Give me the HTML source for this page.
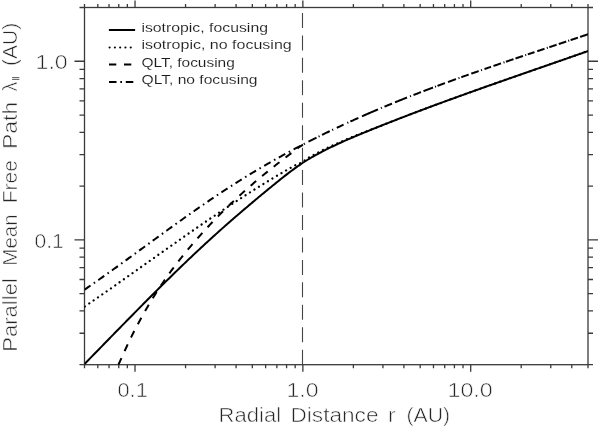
<!DOCTYPE html>
<html><head><meta charset="utf-8"><style>
html,body{margin:0;padding:0;background:#fff;width:600px;height:428px;overflow:hidden}
svg{display:block;filter:grayscale(1)}
text{font-family:"Liberation Sans",sans-serif}
.tk{font-size:20px;fill:#262626;stroke:#fff;stroke-width:0.55px}
.tt{font-size:19.5px;fill:#262626;stroke:#fff;stroke-width:0.55px}
.lg{font-size:13.4px;fill:#1c1c1c;stroke:#fff;stroke-width:0.1px}
</style></head><body>
<svg width="600" height="428" viewBox="0 0 600 428">
<defs><clipPath id="c"><rect x="84.5" y="7.5" width="503.5" height="357.2"/></clipPath></defs>
<rect x="84.5" y="7.5" width="503.5" height="357.2" fill="none" stroke="#3a3a3a" stroke-width="1.3"/>
<path d="M135.02 364.7V371.8M135.02 7.5V0.4M302.86 364.7V371.8M302.86 7.5V0.4M470.69 364.7V371.8M470.69 7.5V0.4M84.5 364.7V368.3M84.5 7.5V3.9M97.79 364.7V368.3M97.79 7.5V3.9M109.03 364.7V368.3M109.03 7.5V3.9M118.76 364.7V368.3M118.76 7.5V3.9M127.34 364.7V368.3M127.34 7.5V3.9M185.55 364.7V368.3M185.55 7.5V3.9M215.1 364.7V368.3M215.1 7.5V3.9M236.07 364.7V368.3M236.07 7.5V3.9M252.33 364.7V368.3M252.33 7.5V3.9M265.62 364.7V368.3M265.62 7.5V3.9M276.86 364.7V368.3M276.86 7.5V3.9M286.59 364.7V368.3M286.59 7.5V3.9M295.18 364.7V368.3M295.18 7.5V3.9M353.38 364.7V368.3M353.38 7.5V3.9M382.93 364.7V368.3M382.93 7.5V3.9M403.9 364.7V368.3M403.9 7.5V3.9M420.17 364.7V368.3M420.17 7.5V3.9M433.46 364.7V368.3M433.46 7.5V3.9M444.69 364.7V368.3M444.69 7.5V3.9M454.42 364.7V368.3M454.42 7.5V3.9M463.01 364.7V368.3M463.01 7.5V3.9M521.21 364.7V368.3M521.21 7.5V3.9M550.77 364.7V368.3M550.77 7.5V3.9M571.74 364.7V368.3M571.74 7.5V3.9M588 364.7V368.3M588 7.5V3.9M84.5 239.86H74.5M588 239.86H598M84.5 61.26H74.5M588 61.26H598M84.5 364.7H79.5M588 364.7H593M84.5 333.25H79.5M588 333.25H593M84.5 310.94H79.5M588 310.94H593M84.5 293.63H79.5M588 293.63H593M84.5 279.49H79.5M588 279.49H593M84.5 267.53H79.5M588 267.53H593M84.5 257.17H79.5M588 257.17H593M84.5 248.04H79.5M588 248.04H593M84.5 186.1H79.5M588 186.1H593M84.5 154.65H79.5M588 154.65H593M84.5 132.34H79.5M588 132.34H593M84.5 115.03H79.5M588 115.03H593M84.5 100.89H79.5M588 100.89H593M84.5 88.93H79.5M588 88.93H593M84.5 78.57H79.5M588 78.57H593M84.5 69.44H79.5M588 69.44H593M84.5 7.5H79.5M588 7.5H593" stroke="#3a3a3a" stroke-width="1.3" fill="none"/>
<path d="M302.5 364.7V7.5" stroke="#444" stroke-width="1.1" stroke-dasharray="15 7.45" fill="none"/>
<path clip-path="url(#c)" d="M303 144.51C303.25 144.38 303.92 144.04 304.5 143.74C305.08 143.44 305.83 143.05 306.5 142.71C307.17 142.37 307.83 142.02 308.5 141.68C309.17 141.34 309.83 141 310.5 140.66C311.17 140.32 311.83 139.99 312.5 139.65C313.17 139.31 313.83 138.97 314.5 138.64C315.17 138.3 315.83 137.97 316.5 137.64C317.17 137.31 317.83 136.98 318.5 136.65C319.17 136.32 319.83 135.99 320.5 135.66C321.17 135.33 321.83 135 322.5 134.67C323.17 134.34 323.83 134.02 324.5 133.7C325.17 133.38 325.83 133.04 326.5 132.72C327.17 132.4 327.83 132.08 328.5 131.76C329.17 131.44 329.83 131.11 330.5 130.79C331.17 130.47 331.83 130.16 332.5 129.84C333.17 129.52 333.83 129.21 334.5 128.89C335.17 128.57 335.83 128.25 336.5 127.94C337.17 127.62 337.83 127.31 338.5 127C339.17 126.69 339.83 126.37 340.5 126.06C341.17 125.75 341.83 125.44 342.5 125.13C343.17 124.82 343.83 124.52 344.5 124.21C345.17 123.9 345.83 123.59 346.5 123.28C347.17 122.97 347.83 122.67 348.5 122.37C349.17 122.07 349.83 121.76 350.5 121.46C351.17 121.16 351.83 120.85 352.5 120.55C353.17 120.25 353.83 119.95 354.5 119.65C355.17 119.35 355.83 119.05 356.5 118.75C357.17 118.45 357.83 118.16 358.5 117.86C359.17 117.56 359.83 117.28 360.5 116.98C361.17 116.69 361.83 116.38 362.5 116.09C363.17 115.8 363.83 115.51 364.5 115.22C365.17 114.93 365.83 114.63 366.5 114.34C367.17 114.05 367.83 113.76 368.5 113.47C369.17 113.18 369.83 112.9 370.5 112.61C371.17 112.32 371.83 112.04 372.5 111.75C373.17 111.46 373.83 111.17 374.5 110.89C375.17 110.61 375.83 110.32 376.5 110.04C377.17 109.76 377.83 109.47 378.5 109.19C379.17 108.91 379.83 108.63 380.5 108.35C381.17 108.07 381.83 107.79 382.5 107.51C383.17 107.23 383.83 106.96 384.5 106.68C385.17 106.4 385.83 106.13 386.5 105.85C387.17 105.57 387.83 105.29 388.5 105.02C389.17 104.75 389.83 104.47 390.5 104.2C391.17 103.93 391.83 103.65 392.5 103.38C393.17 103.11 393.83 102.83 394.5 102.56C395.17 102.29 395.83 102.02 396.5 101.75C397.17 101.48 397.83 101.21 398.5 100.94C399.17 100.67 399.83 100.41 400.5 100.14C401.17 99.87 401.83 99.61 402.5 99.34C403.17 99.07 403.83 98.81 404.5 98.54C405.17 98.28 405.83 98.01 406.5 97.75C407.17 97.49 407.83 97.22 408.5 96.96C409.17 96.7 409.83 96.43 410.5 96.17C411.17 95.91 411.83 95.65 412.5 95.39C413.17 95.13 413.83 94.87 414.5 94.61C415.17 94.35 415.83 94.09 416.5 93.83C417.17 93.57 417.83 93.32 418.5 93.06C419.17 92.8 419.83 92.55 420.5 92.29C421.17 92.03 421.83 91.77 422.5 91.52C423.17 91.27 423.83 91.01 424.5 90.76C425.17 90.51 425.83 90.25 426.5 90C427.17 89.75 427.83 89.49 428.5 89.24C429.17 88.99 429.83 88.74 430.5 88.49C431.17 88.24 431.83 87.98 432.5 87.73C433.17 87.48 433.83 87.24 434.5 86.99C435.17 86.74 435.83 86.49 436.5 86.24C437.17 85.99 437.83 85.75 438.5 85.5C439.17 85.25 439.83 85.01 440.5 84.76C441.17 84.51 441.83 84.27 442.5 84.02C443.17 83.77 443.83 83.53 444.5 83.28C445.17 83.03 445.83 82.79 446.5 82.55C447.17 82.31 447.83 82.06 448.5 81.82C449.17 81.58 449.83 81.33 450.5 81.09C451.17 80.85 451.83 80.61 452.5 80.37C453.17 80.13 453.83 79.88 454.5 79.64C455.17 79.4 455.83 79.16 456.5 78.92C457.17 78.68 457.83 78.45 458.5 78.21C459.17 77.97 459.83 77.73 460.5 77.49C461.17 77.25 461.83 77.02 462.5 76.78C463.17 76.54 463.83 76.3 464.5 76.06C465.17 75.82 465.83 75.58 466.5 75.35C467.17 75.11 467.83 74.89 468.5 74.65C469.17 74.42 469.83 74.17 470.5 73.94C471.17 73.7 471.83 73.47 472.5 73.24C473.17 73.01 473.83 72.77 474.5 72.54C475.17 72.31 475.83 72.07 476.5 71.84C477.17 71.61 477.83 71.37 478.5 71.14C479.17 70.91 479.83 70.67 480.5 70.44C481.17 70.21 481.83 69.98 482.5 69.75C483.17 69.52 483.83 69.28 484.5 69.05C485.17 68.82 485.83 68.59 486.5 68.36C487.17 68.13 487.83 67.9 488.5 67.67C489.17 67.44 489.83 67.21 490.5 66.98C491.17 66.75 491.83 66.53 492.5 66.3C493.17 66.07 493.83 65.84 494.5 65.61C495.17 65.38 495.83 65.16 496.5 64.93C497.17 64.7 497.83 64.48 498.5 64.25C499.17 64.02 499.83 63.79 500.5 63.56C501.17 63.33 501.83 63.11 502.5 62.88C503.17 62.65 503.83 62.43 504.5 62.2C505.17 61.98 505.83 61.76 506.5 61.53C507.17 61.3 507.83 61.08 508.5 60.85C509.17 60.62 509.83 60.4 510.5 60.17C511.17 59.95 511.83 59.73 512.5 59.5C513.17 59.27 513.83 59.05 514.5 58.82C515.17 58.59 515.83 58.37 516.5 58.15C517.17 57.93 517.83 57.7 518.5 57.48C519.17 57.26 519.83 57.03 520.5 56.81C521.17 56.59 521.83 56.36 522.5 56.14C523.17 55.92 523.83 55.69 524.5 55.47C525.17 55.25 525.83 55.02 526.5 54.8C527.17 54.58 527.83 54.35 528.5 54.13C529.17 53.91 529.83 53.68 530.5 53.46C531.17 53.24 531.83 53.01 532.5 52.79C533.17 52.57 533.83 52.34 534.5 52.12C535.17 51.9 535.83 51.68 536.5 51.46C537.17 51.24 537.83 51.01 538.5 50.79C539.17 50.57 539.83 50.34 540.5 50.12C541.17 49.9 541.83 49.68 542.5 49.46C543.17 49.24 543.83 49.01 544.5 48.79C545.17 48.57 545.83 48.34 546.5 48.12C547.17 47.9 547.83 47.68 548.5 47.46C549.17 47.24 549.83 47.01 550.5 46.79C551.17 46.57 551.83 46.35 552.5 46.13C553.17 45.91 553.83 45.68 554.5 45.46C555.17 45.24 555.83 45.01 556.5 44.79C557.17 44.57 557.83 44.35 558.5 44.13C559.17 43.91 559.83 43.68 560.5 43.46C561.17 43.24 561.83 43.01 562.5 42.79C563.17 42.57 563.83 42.35 564.5 42.13C565.17 41.91 565.83 41.68 566.5 41.46C567.17 41.24 567.83 41.01 568.5 40.79C569.17 40.57 569.83 40.34 570.5 40.12C571.17 39.9 571.83 39.68 572.5 39.46C573.17 39.24 573.83 39.01 574.5 38.79C575.17 38.57 575.83 38.34 576.5 38.12C577.17 37.9 577.83 37.67 578.5 37.45C579.17 37.23 579.83 37.01 580.5 36.78C581.17 36.55 581.83 36.33 582.5 36.1C583.17 35.88 583.83 35.65 584.5 35.43C585.17 35.21 585.92 34.96 586.5 34.76C587.08 34.56 587.75 34.34 588 34.25" stroke="#000" stroke-width="2.0" fill="none" stroke-dasharray="0.00 1.01 1.12 4.05 8.96 2.34 1.12 2.68 8.56 2.77 1.11 3.98 7.50 4.08 1.10 2.31 8.77 3.94 17.43 3.15 1.08 2.82 8.11 3.24 12.93 3.23 1.07 2.68 8.04 2.68 10.16 2.13 1.07 1.60 8.00 3.19 8.51 2.65 1.06 1.91 7.85 2.76 7.84 2.44 1.06 2.65 6.88 2.64 7.93 2.64 1.06 1.58 7.92 2.11 7.91 2.32 1.05 1.69 7.07 2.84 7.70 2.43 1.05 1.58 7.70 2.32 7.80 2.11 1.05 1.48 7.70 2.32 8.34 50.00"/>
<path clip-path="url(#c)" d="M84.5 364.03C84.83 363.69 85.83 362.66 86.5 361.98C87.17 361.3 87.83 360.62 88.5 359.94C89.17 359.26 89.83 358.57 90.5 357.89C91.17 357.21 91.83 356.52 92.5 355.84C93.17 355.16 93.83 354.47 94.5 353.79C95.17 353.11 95.83 352.43 96.5 351.75C97.17 351.07 97.83 350.38 98.5 349.7C99.17 349.02 99.83 348.33 100.5 347.65C101.17 346.97 101.83 346.28 102.5 345.6C103.17 344.92 103.83 344.23 104.5 343.55C105.17 342.87 105.83 342.18 106.5 341.5C107.17 340.82 107.83 340.13 108.5 339.45C109.17 338.77 109.83 338.08 110.5 337.4C111.17 336.72 111.83 336.04 112.5 335.36C113.17 334.68 113.83 333.99 114.5 333.31C115.17 332.63 115.83 331.94 116.5 331.26C117.17 330.58 117.83 329.9 118.5 329.22C119.17 328.54 119.83 327.86 120.5 327.18C121.17 326.5 121.83 325.82 122.5 325.14C123.17 324.46 123.83 323.78 124.5 323.1C125.17 322.42 125.83 321.74 126.5 321.06C127.17 320.38 127.83 319.7 128.5 319.02C129.17 318.34 129.83 317.67 130.5 316.99C131.17 316.31 131.83 315.63 132.5 314.95C133.17 314.27 133.83 313.6 134.5 312.92C135.17 312.25 135.83 311.57 136.5 310.9C137.17 310.22 137.83 309.55 138.5 308.87C139.17 308.19 139.83 307.52 140.5 306.85C141.17 306.18 141.83 305.5 142.5 304.83C143.17 304.16 143.83 303.49 144.5 302.82C145.17 302.15 145.83 301.47 146.5 300.8C147.17 300.13 147.83 299.47 148.5 298.8C149.17 298.13 149.83 297.46 150.5 296.79C151.17 296.12 151.83 295.46 152.5 294.79C153.17 294.12 153.83 293.46 154.5 292.79C155.17 292.12 155.83 291.46 156.5 290.8C157.17 290.14 157.83 289.47 158.5 288.81C159.17 288.15 159.83 287.48 160.5 286.82C161.17 286.16 161.83 285.5 162.5 284.84C163.17 284.18 163.83 283.53 164.5 282.87C165.17 282.21 165.83 281.55 166.5 280.89C167.17 280.23 167.83 279.58 168.5 278.93C169.17 278.28 169.83 277.62 170.5 276.97C171.17 276.32 171.83 275.66 172.5 275.01C173.17 274.36 173.83 273.71 174.5 273.06C175.17 272.41 175.83 271.77 176.5 271.12C177.17 270.47 177.83 269.83 178.5 269.18C179.17 268.53 179.83 267.88 180.5 267.24C181.17 266.6 181.83 265.96 182.5 265.32C183.17 264.68 183.83 264.04 184.5 263.4C185.17 262.76 185.83 262.12 186.5 261.48C187.17 260.84 187.83 260.2 188.5 259.57C189.17 258.94 189.83 258.3 190.5 257.67C191.17 257.04 191.83 256.41 192.5 255.78C193.17 255.15 193.83 254.52 194.5 253.89C195.17 253.26 195.83 252.63 196.5 252.01C197.17 251.38 197.83 250.76 198.5 250.14C199.17 249.52 199.83 248.89 200.5 248.27C201.17 247.65 201.83 247.03 202.5 246.41C203.17 245.79 203.83 245.18 204.5 244.56C205.17 243.94 205.83 243.33 206.5 242.72C207.17 242.11 207.83 241.49 208.5 240.88C209.17 240.27 209.83 239.67 210.5 239.06C211.17 238.45 211.83 237.84 212.5 237.24C213.17 236.64 213.83 236.03 214.5 235.43C215.17 234.83 215.83 234.22 216.5 233.62C217.17 233.02 217.83 232.43 218.5 231.83C219.17 231.23 219.83 230.63 220.5 230.04C221.17 229.44 221.83 228.85 222.5 228.26C223.17 227.67 223.83 227.08 224.5 226.49C225.17 225.9 225.83 225.31 226.5 224.72C227.17 224.13 227.83 223.55 228.5 222.96C229.17 222.38 229.83 221.79 230.5 221.21C231.17 220.63 231.83 220.05 232.5 219.47C233.17 218.89 233.83 218.31 234.5 217.73C235.17 217.15 235.83 216.58 236.5 216C237.17 215.42 237.83 214.84 238.5 214.27C239.17 213.7 239.83 213.12 240.5 212.55C241.17 211.98 241.83 211.41 242.5 210.84C243.17 210.27 243.83 209.7 244.5 209.13C245.17 208.56 245.83 208 246.5 207.43C247.17 206.86 247.83 206.29 248.5 205.73C249.17 205.16 249.83 204.6 250.5 204.04C251.17 203.48 251.83 202.92 252.5 202.36C253.17 201.8 253.83 201.24 254.5 200.68C255.17 200.12 255.83 199.57 256.5 199.01C257.17 198.45 257.83 197.9 258.5 197.34C259.17 196.78 259.83 196.23 260.5 195.68C261.17 195.13 261.83 194.57 262.5 194.02C263.17 193.47 263.83 192.91 264.5 192.36C265.17 191.81 265.83 191.26 266.5 190.71C267.17 190.16 267.83 189.62 268.5 189.07C269.17 188.52 269.83 187.98 270.5 187.43C271.17 186.88 271.83 186.33 272.5 185.79C273.17 185.25 273.83 184.7 274.5 184.16C275.17 183.62 275.83 183.08 276.5 182.54C277.17 182 277.83 181.46 278.5 180.92C279.17 180.38 279.83 179.85 280.5 179.32C281.17 178.79 281.83 178.25 282.5 177.72C283.17 177.19 283.83 176.67 284.5 176.15C285.17 175.63 285.83 175.11 286.5 174.59C287.17 174.07 287.83 173.56 288.5 173.05C289.17 172.54 289.83 172.04 290.5 171.54C291.17 171.04 291.83 170.53 292.5 170.04C293.17 169.55 293.83 169.06 294.5 168.58C295.17 168.1 295.83 167.62 296.5 167.15C297.17 166.68 297.83 166.2 298.5 165.74C299.17 165.28 299.83 164.82 300.5 164.37C301.17 163.92 301.83 163.48 302.5 163.04C303.17 162.6 303.83 162.18 304.5 161.75C305.17 161.32 305.83 160.91 306.5 160.49C307.17 160.08 307.83 159.66 308.5 159.26C309.17 158.86 309.83 158.46 310.5 158.07C311.17 157.68 311.83 157.29 312.5 156.91C313.17 156.53 313.83 156.15 314.5 155.78C315.17 155.41 315.83 155.04 316.5 154.67C317.17 154.3 317.83 153.94 318.5 153.58C319.17 153.22 319.83 152.87 320.5 152.52C321.17 152.17 321.83 151.82 322.5 151.47C323.17 151.12 323.83 150.78 324.5 150.44C325.17 150.1 325.83 149.76 326.5 149.43C327.17 149.1 327.83 148.77 328.5 148.44C329.17 148.11 329.83 147.78 330.5 147.46C331.17 147.14 331.83 146.81 332.5 146.49C333.17 146.17 333.83 145.85 334.5 145.54C335.17 145.22 335.83 144.91 336.5 144.6C337.17 144.29 337.83 143.98 338.5 143.67C339.17 143.36 339.83 143.05 340.5 142.75C341.17 142.45 341.83 142.15 342.5 141.85C343.17 141.55 343.83 141.25 344.5 140.95C345.17 140.65 345.83 140.36 346.5 140.07C347.17 139.78 347.83 139.48 348.5 139.19C349.17 138.9 349.83 138.61 350.5 138.32C351.17 138.03 351.83 137.75 352.5 137.46C353.17 137.18 353.83 136.89 354.5 136.61C355.17 136.33 355.83 136.05 356.5 135.77C357.17 135.49 357.83 135.21 358.5 134.93C359.17 134.65 359.83 134.37 360.5 134.09C361.17 133.81 361.83 133.55 362.5 133.27C363.17 133 363.83 132.71 364.5 132.44C365.17 132.17 365.83 131.9 366.5 131.63C367.17 131.36 367.83 131.08 368.5 130.81C369.17 130.54 369.83 130.27 370.5 130C371.17 129.73 371.83 129.46 372.5 129.19C373.17 128.92 373.83 128.66 374.5 128.39C375.17 128.12 375.83 127.85 376.5 127.58C377.17 127.31 377.83 127.05 378.5 126.78C379.17 126.51 379.83 126.25 380.5 125.98C381.17 125.72 381.83 125.45 382.5 125.19C383.17 124.92 383.83 124.66 384.5 124.39C385.17 124.12 385.83 123.86 386.5 123.6C387.17 123.34 387.83 123.07 388.5 122.81C389.17 122.55 389.83 122.29 390.5 122.03C391.17 121.77 391.83 121.5 392.5 121.24C393.17 120.98 393.83 120.72 394.5 120.46C395.17 120.2 395.83 119.94 396.5 119.68C397.17 119.42 397.83 119.17 398.5 118.91C399.17 118.65 399.83 118.39 400.5 118.13C401.17 117.87 401.83 117.62 402.5 117.36C403.17 117.1 403.83 116.85 404.5 116.59C405.17 116.33 405.83 116.07 406.5 115.82C407.17 115.56 407.83 115.31 408.5 115.06C409.17 114.81 409.83 114.55 410.5 114.29C411.17 114.04 411.83 113.78 412.5 113.53C413.17 113.28 413.83 113.02 414.5 112.77C415.17 112.52 415.83 112.27 416.5 112.02C417.17 111.77 417.83 111.51 418.5 111.26C419.17 111.01 419.83 110.76 420.5 110.51C421.17 110.26 421.83 110.01 422.5 109.76C423.17 109.51 423.83 109.26 424.5 109.01C425.17 108.76 425.83 108.51 426.5 108.26C427.17 108.01 427.83 107.76 428.5 107.51C429.17 107.26 429.83 107.02 430.5 106.77C431.17 106.52 431.83 106.27 432.5 106.02C433.17 105.77 433.83 105.53 434.5 105.28C435.17 105.03 435.83 104.79 436.5 104.54C437.17 104.3 437.83 104.06 438.5 103.81C439.17 103.56 439.83 103.31 440.5 103.07C441.17 102.82 441.83 102.59 442.5 102.34C443.17 102.09 443.83 101.84 444.5 101.6C445.17 101.35 445.83 101.11 446.5 100.87C447.17 100.63 447.83 100.38 448.5 100.14C449.17 99.9 449.83 99.65 450.5 99.41C451.17 99.17 451.83 98.93 452.5 98.69C453.17 98.45 453.83 98.2 454.5 97.96C455.17 97.72 455.83 97.48 456.5 97.24C457.17 97 457.83 96.75 458.5 96.51C459.17 96.27 459.83 96.03 460.5 95.79C461.17 95.55 461.83 95.31 462.5 95.07C463.17 94.83 463.83 94.59 464.5 94.35C465.17 94.11 465.83 93.88 466.5 93.64C467.17 93.4 467.83 93.16 468.5 92.92C469.17 92.68 469.83 92.44 470.5 92.2C471.17 91.96 471.83 91.73 472.5 91.49C473.17 91.25 473.83 91.02 474.5 90.78C475.17 90.54 475.83 90.3 476.5 90.06C477.17 89.82 477.83 89.59 478.5 89.35C479.17 89.11 479.83 88.88 480.5 88.64C481.17 88.4 481.83 88.17 482.5 87.93C483.17 87.69 483.83 87.45 484.5 87.22C485.17 86.98 485.83 86.75 486.5 86.52C487.17 86.28 487.83 86.05 488.5 85.81C489.17 85.57 489.83 85.33 490.5 85.1C491.17 84.86 491.83 84.64 492.5 84.4C493.17 84.17 493.83 83.92 494.5 83.69C495.17 83.45 495.83 83.22 496.5 82.99C497.17 82.76 497.83 82.52 498.5 82.29C499.17 82.06 499.83 81.83 500.5 81.59C501.17 81.36 501.83 81.11 502.5 80.88C503.17 80.64 503.83 80.41 504.5 80.18C505.17 79.95 505.83 79.71 506.5 79.48C507.17 79.25 507.83 79.01 508.5 78.78C509.17 78.55 509.83 78.31 510.5 78.08C511.17 77.85 511.83 77.61 512.5 77.38C513.17 77.15 513.83 76.92 514.5 76.69C515.17 76.46 515.83 76.22 516.5 75.99C517.17 75.76 517.83 75.52 518.5 75.29C519.17 75.06 519.83 74.82 520.5 74.59C521.17 74.36 521.83 74.13 522.5 73.9C523.17 73.67 523.83 73.43 524.5 73.2C525.17 72.97 525.83 72.73 526.5 72.5C527.17 72.27 527.83 72.04 528.5 71.81C529.17 71.58 529.83 71.34 530.5 71.11C531.17 70.88 531.83 70.64 532.5 70.41C533.17 70.18 533.83 69.95 534.5 69.72C535.17 69.49 535.83 69.25 536.5 69.02C537.17 68.79 537.83 68.56 538.5 68.33C539.17 68.1 539.83 67.86 540.5 67.63C541.17 67.4 541.83 67.17 542.5 66.94C543.17 66.71 543.83 66.47 544.5 66.24C545.17 66.01 545.83 65.77 546.5 65.54C547.17 65.31 547.83 65.08 548.5 64.85C549.17 64.62 549.83 64.38 550.5 64.15C551.17 63.92 551.83 63.69 552.5 63.46C553.17 63.23 553.83 62.99 554.5 62.76C555.17 62.53 555.83 62.29 556.5 62.06C557.17 61.83 557.83 61.6 558.5 61.37C559.17 61.14 559.83 60.9 560.5 60.67C561.17 60.44 561.83 60.2 562.5 59.97C563.17 59.74 563.83 59.5 564.5 59.27C565.17 59.04 565.83 58.81 566.5 58.58C567.17 58.35 567.83 58.11 568.5 57.88C569.17 57.65 569.83 57.41 570.5 57.18C571.17 56.95 571.83 56.71 572.5 56.48C573.17 56.25 573.83 56.01 574.5 55.78C575.17 55.55 575.83 55.31 576.5 55.08C577.17 54.85 577.83 54.61 578.5 54.38C579.17 54.15 579.83 53.91 580.5 53.68C581.17 53.45 581.83 53.2 582.5 52.97C583.17 52.73 583.83 52.5 584.5 52.27C585.17 52.04 585.92 51.77 586.5 51.57C587.08 51.37 587.75 51.13 588 51.04" stroke="#000" stroke-width="2.0" fill="none" />
<path clip-path="url(#c)" d="M84.5 306.7C84.83 306.47 85.83 305.79 86.5 305.33C87.17 304.87 87.83 304.41 88.5 303.95C89.17 303.49 89.83 303.03 90.5 302.57C91.17 302.11 91.83 301.65 92.5 301.19C93.17 300.73 93.83 300.27 94.5 299.81C95.17 299.35 95.83 298.88 96.5 298.42C97.17 297.96 97.83 297.49 98.5 297.03C99.17 296.57 99.83 296.1 100.5 295.64C101.17 295.18 101.83 294.71 102.5 294.24C103.17 293.77 103.83 293.31 104.5 292.84C105.17 292.37 105.83 291.91 106.5 291.44C107.17 290.97 107.83 290.51 108.5 290.04C109.17 289.57 109.83 289.11 110.5 288.64C111.17 288.17 111.83 287.7 112.5 287.23C113.17 286.76 113.83 286.3 114.5 285.83C115.17 285.36 115.83 284.89 116.5 284.42C117.17 283.95 117.83 283.48 118.5 283.01C119.17 282.54 119.83 282.07 120.5 281.6C121.17 281.13 121.83 280.66 122.5 280.19C123.17 279.72 123.83 279.24 124.5 278.77C125.17 278.3 125.83 277.83 126.5 277.36C127.17 276.89 127.83 276.41 128.5 275.94C129.17 275.47 129.83 275 130.5 274.53C131.17 274.06 131.83 273.58 132.5 273.11C133.17 272.64 133.83 272.16 134.5 271.69C135.17 271.22 135.83 270.74 136.5 270.27C137.17 269.8 137.83 269.33 138.5 268.86C139.17 268.39 139.83 267.91 140.5 267.44C141.17 266.97 141.83 266.49 142.5 266.02C143.17 265.55 143.83 265.07 144.5 264.6C145.17 264.13 145.83 263.65 146.5 263.18C147.17 262.71 147.83 262.23 148.5 261.76C149.17 261.29 149.83 260.81 150.5 260.34C151.17 259.87 151.83 259.39 152.5 258.92C153.17 258.45 153.83 257.98 154.5 257.51C155.17 257.04 155.83 256.56 156.5 256.09C157.17 255.62 157.83 255.14 158.5 254.67C159.17 254.2 159.83 253.72 160.5 253.25C161.17 252.78 161.83 252.31 162.5 251.84C163.17 251.37 163.83 250.9 164.5 250.43C165.17 249.96 165.83 249.48 166.5 249.01C167.17 248.54 167.83 248.07 168.5 247.6C169.17 247.13 169.83 246.66 170.5 246.19C171.17 245.72 171.83 245.25 172.5 244.78C173.17 244.31 173.83 243.84 174.5 243.37C175.17 242.9 175.83 242.44 176.5 241.97C177.17 241.5 177.83 241.03 178.5 240.56C179.17 240.09 179.83 239.63 180.5 239.16C181.17 238.69 181.83 238.23 182.5 237.76C183.17 237.29 183.83 236.83 184.5 236.36C185.17 235.89 185.83 235.43 186.5 234.96C187.17 234.5 187.83 234.03 188.5 233.57C189.17 233.11 189.83 232.64 190.5 232.18C191.17 231.72 191.83 231.25 192.5 230.79C193.17 230.33 193.83 229.86 194.5 229.4C195.17 228.94 195.83 228.48 196.5 228.02C197.17 227.56 197.83 227.09 198.5 226.63C199.17 226.17 199.83 225.71 200.5 225.25C201.17 224.79 201.83 224.34 202.5 223.88C203.17 223.42 203.83 222.97 204.5 222.51C205.17 222.05 205.83 221.6 206.5 221.14C207.17 220.68 207.83 220.23 208.5 219.77C209.17 219.31 209.83 218.86 210.5 218.41C211.17 217.96 211.83 217.5 212.5 217.05C213.17 216.6 213.83 216.14 214.5 215.69C215.17 215.24 215.83 214.79 216.5 214.34C217.17 213.89 217.83 213.44 218.5 212.99C219.17 212.54 219.83 212.1 220.5 211.65C221.17 211.2 221.83 210.76 222.5 210.31C223.17 209.86 223.83 209.41 224.5 208.97C225.17 208.53 225.83 208.08 226.5 207.64C227.17 207.2 227.83 206.75 228.5 206.31C229.17 205.87 229.83 205.43 230.5 204.99C231.17 204.55 231.83 204.11 232.5 203.67C233.17 203.23 233.83 202.8 234.5 202.36C235.17 201.92 235.83 201.49 236.5 201.05C237.17 200.61 237.83 200.17 238.5 199.74C239.17 199.31 239.83 198.88 240.5 198.45C241.17 198.02 241.83 197.58 242.5 197.15C243.17 196.72 243.83 196.29 244.5 195.86C245.17 195.43 245.83 195.01 246.5 194.58C247.17 194.15 247.83 193.73 248.5 193.3C249.17 192.88 249.83 192.45 250.5 192.03C251.17 191.61 251.83 191.18 252.5 190.76C253.17 190.34 253.83 189.92 254.5 189.5C255.17 189.08 255.83 188.66 256.5 188.24C257.17 187.82 257.83 187.41 258.5 187C259.17 186.59 259.83 186.16 260.5 185.75C261.17 185.34 261.83 184.92 262.5 184.51C263.17 184.1 263.83 183.69 264.5 183.28C265.17 182.87 265.83 182.47 266.5 182.06C267.17 181.65 267.83 181.25 268.5 180.84C269.17 180.44 269.83 180.03 270.5 179.63C271.17 179.23 271.83 178.82 272.5 178.42C273.17 178.02 273.83 177.63 274.5 177.23C275.17 176.83 275.83 176.43 276.5 176.03C277.17 175.63 277.83 175.24 278.5 174.85C279.17 174.46 279.83 174.06 280.5 173.67C281.17 173.28 281.83 172.89 282.5 172.5C283.17 172.11 283.83 171.72 284.5 171.34C285.17 170.96 285.83 170.57 286.5 170.19C287.17 169.81 287.83 169.42 288.5 169.04C289.17 168.66 289.83 168.28 290.5 167.9C291.17 167.52 291.83 167.15 292.5 166.77C293.17 166.39 293.83 165.99 294.5 165.64C295.17 165.29 295.83 164.94 296.5 164.66C297.17 164.38 297.83 164.22 298.5 163.94C299.17 163.66 299.83 163.32 300.5 162.96C301.17 162.6 301.83 162.21 302.5 161.8C303.17 161.39 303.83 160.94 304.5 160.5C305.17 160.06 305.83 159.58 306.5 159.13C307.17 158.68 307.83 158.19 308.5 157.77C309.17 157.35 309.83 157 310.5 156.62C311.17 156.24 311.83 155.87 312.5 155.5C313.17 155.13 313.83 154.77 314.5 154.41C315.17 154.05 315.83 153.69 316.5 153.34C317.17 152.99 317.83 152.64 318.5 152.3C319.17 151.96 319.83 151.62 320.5 151.28C321.17 150.94 321.83 150.6 322.5 150.27C323.17 149.94 323.83 149.62 324.5 149.29C325.17 148.96 325.83 148.64 326.5 148.32C327.17 148 327.83 147.69 328.5 147.37C329.17 147.06 329.83 146.74 330.5 146.43C331.17 146.12 331.83 145.81 332.5 145.5C333.17 145.19 333.83 144.89 334.5 144.59C335.17 144.29 335.83 143.99 336.5 143.69C337.17 143.39 337.83 143.1 338.5 142.81C339.17 142.52 339.83 142.22 340.5 141.93C341.17 141.64 341.83 141.36 342.5 141.07C343.17 140.78 343.83 140.49 344.5 140.21C345.17 139.93 345.83 139.65 346.5 139.37C347.17 139.09 347.83 138.81 348.5 138.53C349.17 138.25 349.83 137.98 350.5 137.71C351.17 137.44 351.83 137.16 352.5 136.89C353.17 136.62 353.83 136.35 354.5 136.08C355.17 135.81 355.83 135.55 356.5 135.28C357.17 135.01 357.83 134.75 358.5 134.48C359.17 134.21 359.83 133.95 360.5 133.69C361.17 133.43 361.83 133.16 362.5 132.9C363.17 132.64 363.83 132.38 364.5 132.12C365.17 131.86 365.83 131.61 366.5 131.35C367.17 131.09 367.83 130.83 368.5 130.57C369.17 130.31 369.83 130.06 370.5 129.8C371.17 129.55 371.83 129.29 372.5 129.04C373.17 128.78 373.83 128.53 374.5 128.27C375.17 128.02 375.83 127.76 376.5 127.51C377.17 127.26 377.83 127 378.5 126.75C379.17 126.5 379.83 126.24 380.5 125.98C381.17 125.72 381.83 125.45 382.5 125.19C383.17 124.92 383.83 124.66 384.5 124.39C385.17 124.12 385.83 123.86 386.5 123.6C387.17 123.34 387.83 123.07 388.5 122.81C389.17 122.55 389.83 122.29 390.5 122.03C391.17 121.77 391.83 121.5 392.5 121.24C393.17 120.98 393.83 120.72 394.5 120.46C395.17 120.2 395.83 119.94 396.5 119.68C397.17 119.42 397.83 119.17 398.5 118.91C399.17 118.65 399.83 118.39 400.5 118.13C401.17 117.87 401.83 117.62 402.5 117.36C403.17 117.1 403.83 116.85 404.5 116.59C405.17 116.33 405.83 116.07 406.5 115.82C407.17 115.56 407.83 115.31 408.5 115.06C409.17 114.81 409.83 114.55 410.5 114.29C411.17 114.04 411.83 113.78 412.5 113.53C413.17 113.28 413.83 113.02 414.5 112.77C415.17 112.52 415.83 112.27 416.5 112.02C417.17 111.77 417.83 111.51 418.5 111.26C419.17 111.01 419.83 110.76 420.5 110.51C421.17 110.26 421.83 110.01 422.5 109.76C423.17 109.51 423.83 109.26 424.5 109.01C425.17 108.76 425.83 108.51 426.5 108.26C427.17 108.01 427.83 107.76 428.5 107.51C429.17 107.26 429.83 107.02 430.5 106.77C431.17 106.52 431.83 106.27 432.5 106.02C433.17 105.77 433.83 105.53 434.5 105.28C435.17 105.03 435.83 104.79 436.5 104.54C437.17 104.3 437.83 104.06 438.5 103.81C439.17 103.56 439.83 103.31 440.5 103.07C441.17 102.82 441.83 102.59 442.5 102.34C443.17 102.09 443.83 101.84 444.5 101.6C445.17 101.35 445.83 101.11 446.5 100.87C447.17 100.63 447.83 100.38 448.5 100.14C449.17 99.9 449.83 99.65 450.5 99.41C451.17 99.17 451.83 98.93 452.5 98.69C453.17 98.45 453.83 98.2 454.5 97.96C455.17 97.72 455.83 97.48 456.5 97.24C457.17 97 457.83 96.75 458.5 96.51C459.17 96.27 459.83 96.03 460.5 95.79C461.17 95.55 461.83 95.31 462.5 95.07C463.17 94.83 463.83 94.59 464.5 94.35C465.17 94.11 465.83 93.88 466.5 93.64C467.17 93.4 467.83 93.16 468.5 92.92C469.17 92.68 469.83 92.44 470.5 92.2C471.17 91.96 471.83 91.73 472.5 91.49C473.17 91.25 473.83 91.02 474.5 90.78C475.17 90.54 475.83 90.3 476.5 90.06C477.17 89.82 477.83 89.59 478.5 89.35C479.17 89.11 479.83 88.88 480.5 88.64C481.17 88.4 481.83 88.17 482.5 87.93C483.17 87.69 483.83 87.45 484.5 87.22C485.17 86.98 485.83 86.75 486.5 86.52C487.17 86.28 487.83 86.05 488.5 85.81C489.17 85.57 489.83 85.33 490.5 85.1C491.17 84.86 491.83 84.64 492.5 84.4C493.17 84.17 493.83 83.92 494.5 83.69C495.17 83.45 495.83 83.22 496.5 82.99C497.17 82.76 497.83 82.52 498.5 82.29C499.17 82.06 499.83 81.83 500.5 81.59C501.17 81.36 501.83 81.11 502.5 80.88C503.17 80.64 503.83 80.41 504.5 80.18C505.17 79.95 505.83 79.71 506.5 79.48C507.17 79.25 507.83 79.01 508.5 78.78C509.17 78.55 509.83 78.31 510.5 78.08C511.17 77.85 511.83 77.61 512.5 77.38C513.17 77.15 513.83 76.92 514.5 76.69C515.17 76.46 515.83 76.22 516.5 75.99C517.17 75.76 517.83 75.52 518.5 75.29C519.17 75.06 519.83 74.82 520.5 74.59C521.17 74.36 521.83 74.13 522.5 73.9C523.17 73.67 523.83 73.43 524.5 73.2C525.17 72.97 525.83 72.73 526.5 72.5C527.17 72.27 527.83 72.04 528.5 71.81C529.17 71.58 529.83 71.34 530.5 71.11C531.17 70.88 531.83 70.64 532.5 70.41C533.17 70.18 533.83 69.95 534.5 69.72C535.17 69.49 535.83 69.25 536.5 69.02C537.17 68.79 537.83 68.56 538.5 68.33C539.17 68.1 539.83 67.86 540.5 67.63C541.17 67.4 541.83 67.17 542.5 66.94C543.17 66.71 543.83 66.47 544.5 66.24C545.17 66.01 545.83 65.77 546.5 65.54C547.17 65.31 547.83 65.08 548.5 64.85C549.17 64.62 549.83 64.38 550.5 64.15C551.17 63.92 551.83 63.69 552.5 63.46C553.17 63.23 553.83 62.99 554.5 62.76C555.17 62.53 555.83 62.29 556.5 62.06C557.17 61.83 557.83 61.6 558.5 61.37C559.17 61.14 559.83 60.9 560.5 60.67C561.17 60.44 561.83 60.2 562.5 59.97C563.17 59.74 563.83 59.5 564.5 59.27C565.17 59.04 565.83 58.81 566.5 58.58C567.17 58.35 567.83 58.11 568.5 57.88C569.17 57.65 569.83 57.41 570.5 57.18C571.17 56.95 571.83 56.71 572.5 56.48C573.17 56.25 573.83 56.01 574.5 55.78C575.17 55.55 575.83 55.31 576.5 55.08C577.17 54.85 577.83 54.61 578.5 54.38C579.17 54.15 579.83 53.91 580.5 53.68C581.17 53.45 581.83 53.2 582.5 52.97C583.17 52.73 583.83 52.5 584.5 52.27C585.17 52.04 585.92 51.77 586.5 51.57C587.08 51.37 587.75 51.13 588 51.04" stroke="#000" stroke-width="2.25" fill="none" stroke-dasharray="0.01 5.27" stroke-dashoffset="-0.5" stroke-linecap="round"/>
<path clip-path="url(#c)" d="M118.46 364.7C118.55 364.5 118.66 364.25 119 363.5C119.34 362.75 120 361.31 120.5 360.21C121 359.1 121.5 357.99 122 356.87C122.5 355.75 123 354.63 123.5 353.52C124 352.41 124.5 351.31 125 350.22C125.5 349.13 126 348.05 126.5 346.97C127 345.89 127.5 344.82 128 343.76C128.5 342.7 129 341.65 129.5 340.6C130 339.55 130.5 338.5 131 337.48C131.5 336.46 132 335.49 132.5 334.5C133 333.51 133.5 332.53 134 331.56C134.5 330.59 135 329.62 135.5 328.66C136 327.7 136.5 326.75 137 325.81C137.5 324.87 138 323.92 138.5 322.99C139 322.06 139.5 321.14 140 320.22C140.5 319.3 141 318.38 141.5 317.48C142 316.58 142.5 315.68 143 314.79C143.5 313.9 144 313.01 144.5 312.13C145 311.25 145.5 310.38 146 309.51C146.5 308.64 147 307.78 147.5 306.92C148 306.06 148.5 305.21 149 304.37C149.5 303.53 150 302.69 150.5 301.87C151 301.05 151.5 300.23 152 299.42C152.5 298.61 153 297.81 153.5 297.01C154 296.21 154.5 295.42 155 294.63C155.5 293.84 156 293.06 156.5 292.28C157 291.5 157.5 290.73 158 289.96C158.5 289.19 159 288.44 159.5 287.68C160 286.92 160.5 286.17 161 285.42C161.5 284.67 162 283.94 162.5 283.2C163 282.46 163.5 281.73 164 281C164.5 280.27 165 279.55 165.5 278.83C166 278.11 166.5 277.4 167 276.69C167.5 275.98 168 275.27 168.5 274.57C169 273.87 169.5 273.18 170 272.49C170.5 271.8 171 271.12 171.5 270.44C172 269.76 172.5 269.1 173 268.43C173.5 267.76 174 267.1 174.5 266.44C175 265.78 175.5 265.12 176 264.47C176.5 263.82 177 263.17 177.5 262.52C178 261.87 178.5 261.23 179 260.59C179.5 259.95 180 259.32 180.5 258.69C181 258.06 181.5 257.44 182 256.81C182.5 256.19 183 255.56 183.5 254.94C184 254.32 184.5 253.71 185 253.1C185.5 252.49 186 251.88 186.5 251.27C187 250.66 187.5 250.06 188 249.46C188.5 248.86 189 248.26 189.5 247.67C190 247.08 190.5 246.49 191 245.9C191.5 245.31 192 244.72 192.5 244.14C193 243.55 193.5 242.97 194 242.39C194.5 241.81 195 241.23 195.5 240.66C196 240.09 196.5 239.51 197 238.94C197.5 238.37 198 237.8 198.5 237.24C199 236.68 199.5 236.12 200 235.56C200.5 235 201 234.44 201.5 233.88C202 233.32 202.5 232.77 203 232.22C203.5 231.67 204 231.12 204.5 230.57C205 230.02 205.5 229.48 206 228.94C206.5 228.4 207 227.86 207.5 227.32C208 226.78 208.5 226.25 209 225.72C209.5 225.19 210 224.65 210.5 224.12C211 223.59 211.5 223.06 212 222.54C212.5 222.01 213 221.49 213.5 220.97C214 220.45 214.5 219.94 215 219.42C215.5 218.9 216 218.38 216.5 217.87C217 217.36 217.5 216.85 218 216.34C218.5 215.83 219 215.32 219.5 214.82C220 214.32 220.5 213.82 221 213.32C221.5 212.82 222 212.32 222.5 211.82C223 211.32 223.5 210.83 224 210.34C224.5 209.85 225 209.35 225.5 208.86C226 208.37 226.5 207.89 227 207.4C227.5 206.91 228 206.43 228.5 205.95C229 205.47 229.5 204.99 230 204.51C230.5 204.03 231 203.56 231.5 203.09C232 202.62 232.5 202.14 233 201.67C233.5 201.2 234 200.73 234.5 200.26C235 199.79 235.5 199.32 236 198.86C236.5 198.4 237 197.94 237.5 197.48C238 197.02 238.5 196.56 239 196.1C239.5 195.64 240 195.18 240.5 194.73C241 194.28 241.5 193.83 242 193.38C242.5 192.93 243 192.48 243.5 192.03C244 191.58 244.5 191.13 245 190.69C245.5 190.25 246 189.8 246.5 189.36C247 188.92 247.5 188.48 248 188.04C248.5 187.6 249 187.16 249.5 186.73C250 186.29 250.5 185.86 251 185.43C251.5 185 252 184.57 252.5 184.14C253 183.71 253.5 183.28 254 182.85C254.5 182.42 255 182 255.5 181.58C256 181.16 256.5 180.73 257 180.31C257.5 179.89 258 179.47 258.5 179.05C259 178.63 259.5 178.22 260 177.8C260.5 177.38 261 176.97 261.5 176.55C262 176.14 262.5 175.72 263 175.31C263.5 174.9 264 174.49 264.5 174.08C265 173.67 265.5 173.27 266 172.86C266.5 172.46 267 172.05 267.5 171.65C268 171.25 268.5 170.84 269 170.44C269.5 170.04 270 169.64 270.5 169.24C271 168.84 271.5 168.44 272 168.04C272.5 167.64 273 167.25 273.5 166.85C274 166.45 274.5 166.06 275 165.67C275.5 165.28 276 164.88 276.5 164.49C277 164.1 277.5 163.71 278 163.32C278.5 162.93 279 162.55 279.5 162.16C280 161.77 280.5 161.38 281 161C281.5 160.62 282 160.23 282.5 159.85C283 159.47 283.5 159.08 284 158.7C284.5 158.32 285 157.94 285.5 157.56C286 157.18 286.5 156.8 287 156.42C287.5 156.04 288 155.67 288.5 155.29C289 154.91 289.5 154.53 290 154.16C290.5 153.78 291 153.41 291.5 153.04C292 152.67 292.5 152.29 293 151.92C293.5 151.55 294 151.17 294.5 150.8C295 150.43 295.5 150.09 296 149.69C296.5 149.29 297 148.8 297.5 148.39C298 147.98 298.5 147.59 299 147.23C299.5 146.86 300 146.53 300.5 146.2C301 145.87 301.58 145.52 302 145.27C302.42 145.02 302.83 144.8 303 144.71" stroke="#000" stroke-width="2.0" fill="none" stroke-dasharray="7.3 7.67"/>
<path clip-path="url(#c)" d="M84.5 289.71C84.83 289.48 85.83 288.79 86.5 288.33C87.17 287.87 87.83 287.4 88.5 286.94C89.17 286.48 89.83 286.01 90.5 285.55C91.17 285.09 91.83 284.62 92.5 284.16C93.17 283.7 93.83 283.23 94.5 282.76C95.17 282.29 95.83 281.82 96.5 281.35C97.17 280.88 97.83 280.42 98.5 279.95C99.17 279.48 99.83 279 100.5 278.53C101.17 278.06 101.83 277.58 102.5 277.11C103.17 276.64 103.83 276.16 104.5 275.69C105.17 275.22 105.83 274.75 106.5 274.27C107.17 273.79 107.83 273.32 108.5 272.84C109.17 272.36 109.83 271.89 110.5 271.41C111.17 270.93 111.83 270.45 112.5 269.97C113.17 269.49 113.83 269.02 114.5 268.54C115.17 268.06 115.83 267.58 116.5 267.1C117.17 266.62 117.83 266.13 118.5 265.65C119.17 265.17 119.83 264.69 120.5 264.21C121.17 263.73 121.83 263.24 122.5 262.76C123.17 262.28 123.83 261.79 124.5 261.31C125.17 260.83 125.83 260.34 126.5 259.86C127.17 259.38 127.83 258.9 128.5 258.41C129.17 257.93 129.83 257.44 130.5 256.95C131.17 256.46 131.83 255.99 132.5 255.5C133.17 255.01 133.83 254.53 134.5 254.04C135.17 253.55 135.83 253.07 136.5 252.58C137.17 252.09 137.83 251.61 138.5 251.12C139.17 250.63 139.83 250.15 140.5 249.66C141.17 249.17 141.83 248.69 142.5 248.2C143.17 247.71 143.83 247.23 144.5 246.74C145.17 246.25 145.83 245.77 146.5 245.28C147.17 244.79 147.83 244.31 148.5 243.82C149.17 243.33 149.83 242.85 150.5 242.36C151.17 241.88 151.83 241.4 152.5 240.91C153.17 240.42 153.83 239.94 154.5 239.45C155.17 238.96 155.83 238.48 156.5 237.99C157.17 237.5 157.83 237.02 158.5 236.54C159.17 236.06 159.83 235.56 160.5 235.08C161.17 234.6 161.83 234.11 162.5 233.63C163.17 233.15 163.83 232.66 164.5 232.18C165.17 231.7 165.83 231.21 166.5 230.73C167.17 230.25 167.83 229.76 168.5 229.28C169.17 228.8 169.83 228.32 170.5 227.84C171.17 227.36 171.83 226.87 172.5 226.39C173.17 225.91 173.83 225.43 174.5 224.95C175.17 224.47 175.83 224 176.5 223.52C177.17 223.04 177.83 222.56 178.5 222.08C179.17 221.6 179.83 221.13 180.5 220.65C181.17 220.17 181.83 219.69 182.5 219.22C183.17 218.75 183.83 218.27 184.5 217.8C185.17 217.33 185.83 216.85 186.5 216.38C187.17 215.91 187.83 215.43 188.5 214.96C189.17 214.49 189.83 214.02 190.5 213.55C191.17 213.08 191.83 212.61 192.5 212.14C193.17 211.67 193.83 211.21 194.5 210.74C195.17 210.27 195.83 209.81 196.5 209.34C197.17 208.88 197.83 208.41 198.5 207.95C199.17 207.49 199.83 207.02 200.5 206.56C201.17 206.1 201.83 205.64 202.5 205.18C203.17 204.72 203.83 204.26 204.5 203.8C205.17 203.34 205.83 202.88 206.5 202.42C207.17 201.96 207.83 201.51 208.5 201.06C209.17 200.61 209.83 200.15 210.5 199.7C211.17 199.25 211.83 198.79 212.5 198.34C213.17 197.89 213.83 197.44 214.5 196.99C215.17 196.54 215.83 196.09 216.5 195.65C217.17 195.21 217.83 194.76 218.5 194.32C219.17 193.88 219.83 193.43 220.5 192.99C221.17 192.55 221.83 192.11 222.5 191.67C223.17 191.23 223.83 190.79 224.5 190.35C225.17 189.91 225.83 189.48 226.5 189.05C227.17 188.62 227.83 188.18 228.5 187.75C229.17 187.32 229.83 186.89 230.5 186.46C231.17 186.03 231.83 185.6 232.5 185.17C233.17 184.74 233.83 184.32 234.5 183.9C235.17 183.48 235.83 183.05 236.5 182.63C237.17 182.21 237.83 181.79 238.5 181.37C239.17 180.95 239.83 180.54 240.5 180.12C241.17 179.7 241.83 179.28 242.5 178.87C243.17 178.46 243.83 178.04 244.5 177.63C245.17 177.22 245.83 176.81 246.5 176.4C247.17 175.99 247.83 175.59 248.5 175.18C249.17 174.77 249.83 174.37 250.5 173.96C251.17 173.56 251.83 173.15 252.5 172.75C253.17 172.35 253.83 171.95 254.5 171.55C255.17 171.15 255.83 170.76 256.5 170.36C257.17 169.96 257.83 169.56 258.5 169.17C259.17 168.77 259.83 168.38 260.5 167.99C261.17 167.6 261.83 167.21 262.5 166.82C263.17 166.43 263.83 166.05 264.5 165.66C265.17 165.27 265.83 164.89 266.5 164.5C267.17 164.11 267.83 163.72 268.5 163.34C269.17 162.96 269.83 162.58 270.5 162.2C271.17 161.82 271.83 161.44 272.5 161.06C273.17 160.68 273.83 160.31 274.5 159.93C275.17 159.56 275.83 159.18 276.5 158.81C277.17 158.44 277.83 158.06 278.5 157.69C279.17 157.32 279.83 156.95 280.5 156.58C281.17 156.21 281.83 155.84 282.5 155.47C283.17 155.1 283.83 154.74 284.5 154.37C285.17 154 285.83 153.64 286.5 153.28C287.17 152.92 287.83 152.55 288.5 152.19C289.17 151.83 289.83 151.48 290.5 151.12C291.17 150.76 291.83 150.4 292.5 150.04C293.17 149.68 293.83 149.33 294.5 148.98C295.17 148.63 295.83 148.27 296.5 147.92C297.17 147.57 297.83 147.21 298.5 146.86C299.17 146.51 299.83 146.16 300.5 145.81C301.17 145.46 302.08 144.99 302.5 144.77C302.92 144.55 302.92 144.56 303 144.51" stroke="#000" stroke-width="2.0" fill="none" stroke-dasharray="7.3 4 1.6 3.9"/>
<path d="M108.9 30.0H135.1" stroke="#000" stroke-width="2"/>
<path d="M109.6 47.5H131" stroke="#000" stroke-width="2.15" stroke-dasharray="0.01 5.27" stroke-linecap="round"/>
<path d="M109 64.5H131.5" stroke="#000" stroke-width="2" stroke-dasharray="7.3 7.7"/>
<path d="M109 82.0H133.4" stroke="#000" stroke-width="2" stroke-dasharray="7.5 3.8 1.7 3.8"/>
<text x="35.60" y="69.4" class="tk" textLength="32.15" lengthAdjust="spacingAndGlyphs">1.0</text>
<text x="34.50" y="248.0" class="tk" textLength="29.30" lengthAdjust="spacingAndGlyphs">0.1</text>
<text x="117.50" y="396.7" class="tk" textLength="30.25" lengthAdjust="spacingAndGlyphs">0.1</text>
<text x="286.50" y="396.7" class="tk" textLength="32.00" lengthAdjust="spacingAndGlyphs">1.0</text>
<text x="447.50" y="396.7" class="tk" textLength="45.20" lengthAdjust="spacingAndGlyphs">10.0</text>
<text x="218.50" y="421.6" class="tt" textLength="62.60" lengthAdjust="spacingAndGlyphs">Radial</text>
<text x="290.50" y="421.6" class="tt" textLength="88.00" lengthAdjust="spacingAndGlyphs">Distance</text>
<text x="387.90" y="421.6" class="tt" textLength="7.60" lengthAdjust="spacingAndGlyphs">r</text>
<text x="406.50" y="421.6" class="tt" textLength="43.60" lengthAdjust="spacingAndGlyphs">(AU)</text>
<text transform="translate(16.7 351.70) rotate(-90)" class="tt" textLength="73.50" lengthAdjust="spacingAndGlyphs">Parallel</text>
<text transform="translate(16.7 265.70) rotate(-90)" class="tt" textLength="51.40" lengthAdjust="spacingAndGlyphs">Mean</text>
<text transform="translate(16.7 203.20) rotate(-90)" class="tt" textLength="43.10" lengthAdjust="spacingAndGlyphs">Free</text>
<text transform="translate(16.7 148.90) rotate(-90)" class="tt" textLength="47.10" lengthAdjust="spacingAndGlyphs">Path</text>
<text transform="translate(16.7 91.50) rotate(-90)" class="tt" textLength="9.60" lengthAdjust="spacingAndGlyphs">λ</text>
<text transform="translate(16.7 66.10) rotate(-90)" class="tt" textLength="43.40" lengthAdjust="spacingAndGlyphs">(AU)</text>
<text x="141.40" y="31.8" class="lg" textLength="126.60" lengthAdjust="spacingAndGlyphs">isotropic, focusing</text>
<text x="141.40" y="49.4" class="lg" textLength="150.30" lengthAdjust="spacingAndGlyphs">isotropic, no focusing</text>
<text x="141.50" y="66.8" class="lg" textLength="93.30" lengthAdjust="spacingAndGlyphs">QLT, focusing</text>
<text x="141.50" y="84.0" class="lg" textLength="116.00" lengthAdjust="spacingAndGlyphs">QLT, no focusing</text>
<path d="M12.1 77.6H19.35M12.1 79.4H19.35" stroke="#4a4a4a" stroke-width="0.9" fill="none"/>
</svg>
</body></html>
